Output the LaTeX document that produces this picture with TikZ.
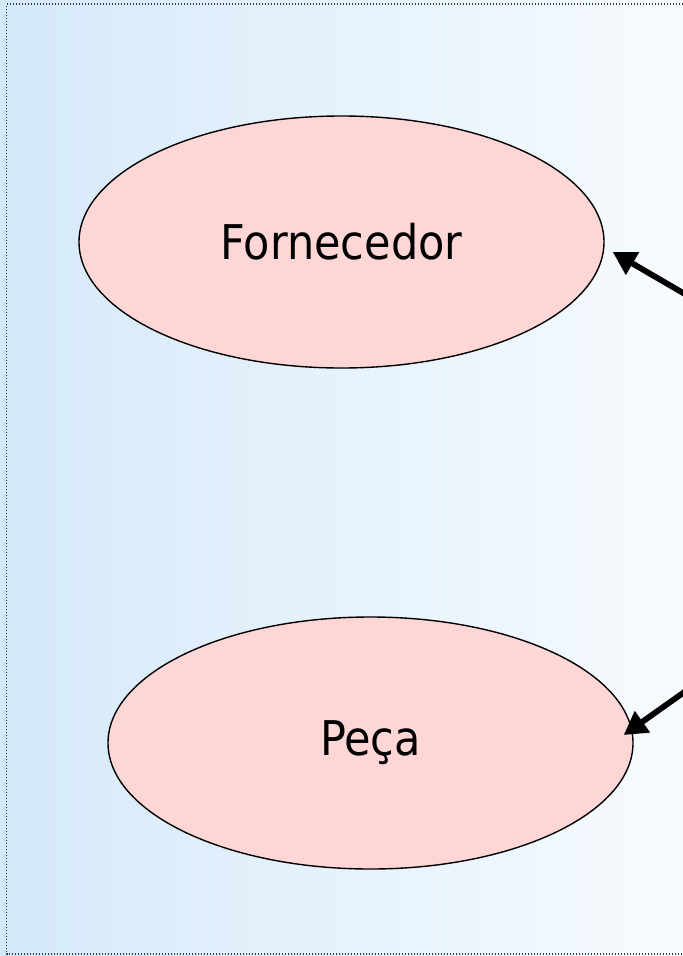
\documentclass[tikz,border=0pt]{standalone}
\usepackage{fontspec}
\setmainfont{DejaVu Sans}[FakeStretch=0.9]
\usetikzlibrary{shapes.geometric,arrows.meta}
\definecolor{bgL}{HTML}{D5E9F9}
\definecolor{bgR}{HTML}{F7FBFE}
\definecolor{pinkfill}{HTML}{FFD6D6}
\definecolor{bordergray}{HTML}{2E3A46}
\tikzset{
  entity/.style={ellipse, draw=black, line width=1.4bp, fill=pinkfill,
    minimum width=525bp, minimum height=252bp, inner sep=0pt,
    font=\fontsize{48}{56}\selectfont},
  arr/.style={line width=5.8bp, -{Triangle[length=23bp,width=25bp]}},
  frame/.style={draw=bordergray, line width=1.6bp, dash pattern=on 1.4bp off 1.6bp}
}
\begin{document}
\begin{tikzpicture}[x=1bp,y=-1bp]
\useasboundingbox (0,0) rectangle (683,956);
\shade[left color=bgL, right color=bgR] (0,0) rectangle (683,956);
\draw[frame] (683,4) -- (6.5,4) -- (6.5,954) -- (683,954);
\node[entity] (f) at (341.5,242) {Fornecedor};
\node[entity] (p) at (370.5,743) {Peça};
\coordinate (s1) at (690,297);
\coordinate (s2) at (690,688);
\draw[arr] (s1) -- ([shift={(8,10)}]f.east);
\draw[arr] (s2) -- ([shift={(-10,-8)}]p.east);
\end{tikzpicture}
\end{document}
